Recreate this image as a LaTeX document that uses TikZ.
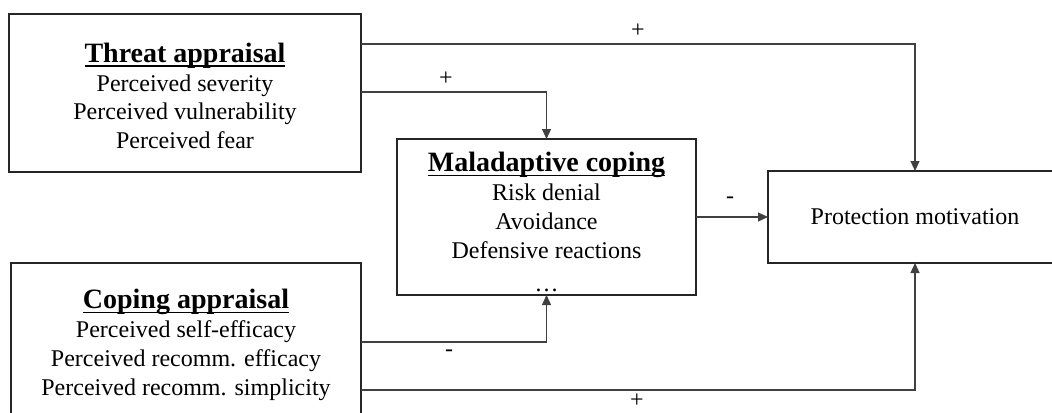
\documentclass[tikz,border=0pt]{standalone}
\usepackage{fontspec}
\setmainfont{Liberation Serif}
\usetikzlibrary{arrows.meta,calc}
\tikzset{
  box/.style={draw=black!85,line width=1pt,minimum width=#1,inner sep=0pt,outer sep=0pt},
  txt/.style={align=center,inner sep=0pt,font=\fontsize{12}{14.4}\selectfont},
  conn/.style={draw=black!75,line width=0.6pt,-{Triangle[length=5pt,width=4.5pt]}},
  sign/.style={inner sep=0pt,font=\fontsize{12}{14}\selectfont}
}
\newcommand{\headtxt}[1]{{\fontsize{14}{16}\selectfont\bfseries\setbox0\hbox{#1}\rlap{\rule[-2.2pt]{\wd0}{0.7pt}}\box0}}
\begin{document}
\begin{tikzpicture}[x=0.5pt,y=-0.5pt]
\useasboundingbox (0,0) rectangle (1052,412);
\clip (0,0) rectangle (1052,412);
% boxes
\node[box=176pt,minimum height=79pt] (threat) at (185,93) {};
\node[box=175pt,minimum height=85pt] (cope) at (186,348) {};
\node[box=149.5pt,minimum height=78pt] (mal) at (546.5,217) {};
\node[box=147pt,minimum height=46pt] (prot) at (915,217) {};
% texts
\node[txt] (threattxt) at (185,96) {\headtxt{Threat appraisal}\\ Perceived severity\\ Perceived vulnerability\\ Perceived fear};
\node[txt] (copetxt) at (186,345) {\headtxt{Coping appraisal}\\ Perceived self-efficacy\\ Perceived recomm. efficacy\\ Perceived recomm. simplicity};
\node[txt] (maltxt) at (546.5,222) {\headtxt{Maladaptive coping}\\ Risk denial\\ Avoidance\\ Defensive reactions\\[2pt] …};
\node[txt] (prottxt) at (915,217) {Protection motivation};
% connectors
\coordinate (t1) at ($(threat.north east)+(0,30)$);
\coordinate (t2) at ($(threat.north east)+(0,78)$);
\coordinate (c1) at ($(cope.north east)+(0,79)$);
\coordinate (c2) at ($(cope.north east)+(0,127)$);
\draw[conn] (t1) -| (prot.north);
\draw[conn] (t2) -| (mal.north);
\draw[conn] (mal.east) -- (prot.west);
\draw[conn] (c1) -| (mal.south);
\draw[conn] (c2) -| (prot.south);
% signs
\node[sign] (s1) at (638,31) {+};
\node[sign] (s2) at (446,79) {+};
\node[sign] (s3) at (730,200) {-};
\node[sign] (s4) at (449,353) {-};
\node[sign] (s5) at (637,401) {+};
\end{tikzpicture}
\end{document}
